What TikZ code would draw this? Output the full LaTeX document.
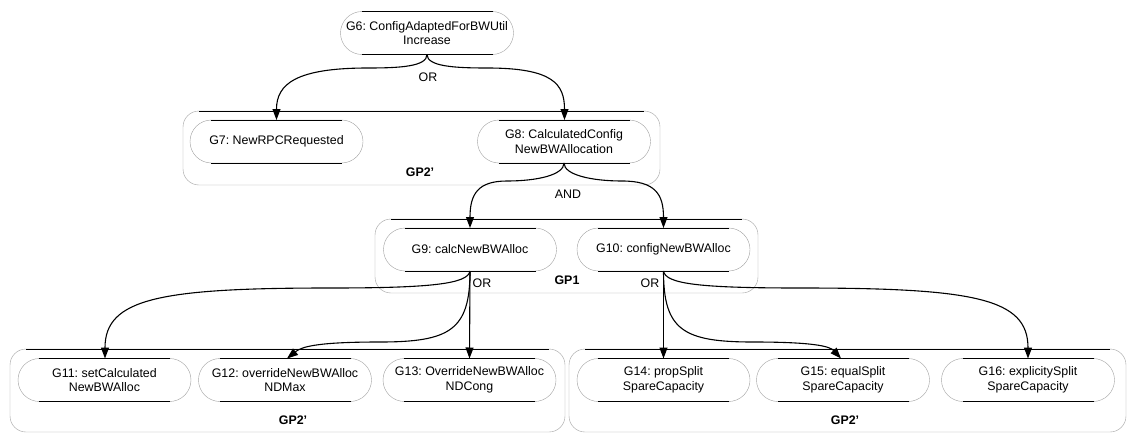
\documentclass[tikz,border=0pt]{standalone}
\usepackage{fontspec}
\setmainfont{Liberation Sans}
\usetikzlibrary{arrows.meta,calc}
\frenchspacing
\newcommand\diagfont{\fontsize{12.4pt}{14.6pt}\selectfont\frenchspacing}
\newcommand\goalnode[4]{%
  \node[goal] (#1) at (#2,#3) {#4};
  \draw[edgeline] ([xshift=21pt]#1.north west) -- ([xshift=-21pt]#1.north east);
  \draw[edgeline] ([xshift=21pt]#1.south west) -- ([xshift=-21pt]#1.south east);
}
\newcommand\groupnode[5]{%
  \node[grp, minimum width=#4pt, minimum height=#5pt] (#1) at (#2,#3) {};
  \draw[edgeline] ([xshift=16pt]#1.north west) -- ([xshift=-16pt]#1.north east);
}
\tikzset{
  goal/.style={draw=gray!75, line width=0.4pt, rounded corners=21.5pt,
    minimum width=173pt, minimum height=43pt, inner sep=0pt, outer sep=0pt,
    align=center, font=\diagfont},
  grp/.style={draw=gray!75, line width=0.4pt, rounded corners=16pt,
    inner sep=0pt, outer sep=0pt},
  edgeline/.style={black, line width=0.7pt},
  grplabel/.style={font=\diagfont\bfseries, inner sep=0pt},
  oplabel/.style={font=\diagfont, inner sep=0pt},
  arr/.style={black, line width=1.1pt, -{Triangle[length=11pt,width=8pt]}},
}
\begin{document}
\begin{tikzpicture}[x=1pt,y=-1pt]
\useasboundingbox (0,0) rectangle (1128,434);
% groups
\groupnode{gtop}{421.5}{148}{477}{74}
\groupnode{gp1}{566.5}{256}{383}{74}
\groupnode{gleft}{287.5}{390.5}{555}{83}
\groupnode{gright}{847.5}{390.5}{557}{83}
\node[grplabel] (lgtop) at (420,172) {GP2'};
\node[grplabel] (lgp1) at (567,280) {GP1};
\node[grplabel] (lgleft) at (293,420) {GP2'};
\node[grplabel] (lgright) at (845,420) {GP2'};
% goals
\goalnode{g6}{427}{33}{G6: ConfigAdaptedForBWUtil\\Increase}
\goalnode{g7}{276.5}{141.5}{G7: NewRPCRequested}
\goalnode{g8}{564}{141.5}{G8: CalculatedConfig\\NewBWAllocation}
\goalnode{g9}{470}{249.5}{G9: calcNewBWAlloc}
\goalnode{g10}{663.5}{249.5}{G10: configNewBWAlloc}
\goalnode{g11}{104.5}{380}{G11: setCalculated\\NewBWAlloc}
\goalnode{g12}{285}{380}{G12: overrideNewBWAlloc\\NDMax}
\goalnode{g13}{469.5}{380}{G13: OverrideNewBWAlloc\\NDCong}
\goalnode{g14}{663.5}{380}{G14: propSplit\\SpareCapacity}
\goalnode{g15}{843}{380}{G15: equalSplit\\SpareCapacity}
\goalnode{g16}{1028}{380}{G16: explicitySplit\\SpareCapacity}
% operator labels
\node[oplabel] (or1) at (428,77) {OR};
\node[oplabel] (and1) at (568,194) {AND};
\node[oplabel] (or2) at (482,283) {OR};
\node[oplabel] (or3) at (650,283) {OR};
% waypoints
\coordinate (m67) at (368,68);
\coordinate (m68) at (487,68);
\coordinate (m89) at (507,181);
\coordinate (m810) at (622,181);
\coordinate (m911) at (330,288);
\coordinate (m912) at (380,342);
\coordinate (m1015) at (753,342);
\coordinate (m1016) at (800,288);
% connectors
\draw[arr] (g6.south) .. controls +(0,12) and +(32,0) .. (m67)
  .. controls +(-72,0) and +(0,-36) .. (g7.north);
\draw[arr] (g6.south) .. controls +(0,12) and +(-32,0) .. (m68)
  .. controls +(66,0) and +(0,-36) .. ([xshift=0.5pt]g8.north);
\draw[arr] (g8.south) .. controls +(0,12) and +(30,0) .. (m89)
  .. controls +(-29,0) and +(0,-34) .. (g9.north);
\draw[arr] (g8.south) .. controls +(0,12) and +(-30,0) .. (m810)
  .. controls +(33,0) and +(0,-34) .. (g10.north);
\draw[arr] (g9.south) .. controls +(-2,13) and +(100,0) .. (m911)
  .. controls +(-170,0) and +(0,-60) .. ([xshift=0.5pt]g11.north);
\draw[arr] (g9.south) .. controls +(0,59) and +(70,0) .. (m912)
  .. controls +(-62,0) and +(15,-12) .. ([xshift=2pt]g12.north);
\draw[arr] (g9.south) -- (g13.north);
\draw[arr] (g10.south) -- (g14.north);
\draw[arr] (g10.south) .. controls +(0,59) and +(-70,0) .. (m1015)
  .. controls +(62,0) and +(-11,-12) .. ([xshift=-2pt]g15.north);
\draw[arr] (g10.south) .. controls +(2,13) and +(-100,0) .. (m1016)
  .. controls +(175,0) and +(0,-60) .. (g16.north);
\end{tikzpicture}
\end{document}
